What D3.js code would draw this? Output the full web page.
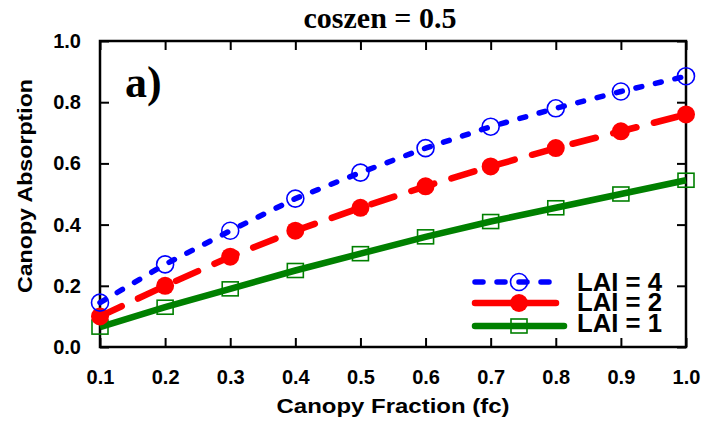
<!DOCTYPE html>
<meta charset="utf-8">
<body style="margin:0;background:#fff">
<style>
    text { font-family: "Liberation Sans", Arial, sans-serif; font-weight: bold; }
    .serif { font-family: "Liberation Serif", "Times New Roman", serif; }
</style>
<script src="https://d3js.org/d3.v7.min.js"></script>
<script>
    // data
    var fc = [0.1, 0.2, 0.3, 0.4, 0.5, 0.6, 0.7, 0.8, 0.9, 1.0];
    var lai4 = [0.145, 0.27, 0.38, 0.485, 0.57, 0.65, 0.72, 0.78, 0.835, 0.885];
    var lai2 = [0.10, 0.20, 0.295, 0.38, 0.455, 0.525, 0.59, 0.65, 0.705, 0.76];
    var lai1 = [0.065, 0.13, 0.19, 0.25, 0.305, 0.36, 0.41, 0.455, 0.50, 0.545];
    var xTicks = [0.1, 0.2, 0.3, 0.4, 0.5, 0.6, 0.7, 0.8, 0.9, 1.0];
    var yTicks = [0.0, 0.2, 0.4, 0.6, 0.8, 1.0];
    var legendNames = ["LAI = 4", "LAI = 2", "LAI = 1"];

    var margin = {top: 41, right: 20, bottom: 82, left: 100},
        width = 706 - margin.left - margin.right,
        height = 429 - margin.top - margin.bottom;

    var x = d3.scaleLinear().domain([0.1, 1.0]).range([0, width]);
    var y = d3.scaleLinear().domain([0, 1]).range([height, 0]);

    var svg = d3.select("body").append("svg")
        .attr("width", 706).attr("height", 429)
        .append("g")
        .attr("transform", "translate(" + margin.left + "," + margin.top + ")");

    // axes with inward ticks on all four sides
    function styleAxis(g) {
        g.select(".domain").remove();
        g.selectAll(".tick line").attr("stroke", "#000").attr("stroke-width", 2);
        g.selectAll("text").attr("font-size", 20).attr("fill", "#000");
    }
    svg.append("g").attr("transform", "translate(0," + height + ")")
        .call(d3.axisBottom(x).tickValues(xTicks).tickFormat(d3.format(".1f")).tickSizeInner(-9).tickPadding(23))
        .call(styleAxis);
    svg.append("g")
        .call(d3.axisTop(x).tickValues(xTicks).tickFormat("").tickSizeInner(-9))
        .call(styleAxis);
    svg.append("g")
        .call(d3.axisLeft(y).tickValues(yTicks).tickFormat(d3.format(".1f")).tickSizeInner(-9).tickPadding(19))
        .call(styleAxis);
    svg.append("g").attr("transform", "translate(" + width + ",0)")
        .call(d3.axisRight(y).tickValues(yTicks).tickFormat("").tickSizeInner(-9))
        .call(styleAxis);

    svg.append("rect").attr("width", width).attr("height", height)
        .attr("fill", "none").attr("stroke", "#000").attr("stroke-width", 2.5);

    var series = [
        {name: legendNames[0], values: lai4, color: "#0000ff", dash: "6,14", legDash: "8,14", width: 5.5, marker: "open"},
        {name: legendNames[1], values: lai2, color: "#ff0000", dash: "24,18", legDash: null, width: 6.5, marker: "filled"},
        {name: legendNames[2], values: lai1, color: "#008000", dash: null, legDash: null, width: 6.5, marker: "square"}
    ];

    var line = d3.line()
        .x(function(d, i) { return x(fc[i]); })
        .y(function(d) { return y(d); });

    function drawMarker(g, cx, cy, s) {
        if (s.marker === "open") {
            g.append("circle").attr("cx", cx).attr("cy", cy).attr("r", 8.5)
                .attr("fill", "none").attr("stroke", s.color).attr("stroke-width", 1.6);
        } else if (s.marker === "filled") {
            g.append("circle").attr("cx", cx).attr("cy", cy).attr("r", 9)
                .attr("fill", s.color);
        } else {
            g.append("rect").attr("x", cx - 8).attr("y", cy - 7).attr("width", 16).attr("height", 14)
                .attr("fill", "none").attr("stroke", s.color).attr("stroke-width", 1.6);
        }
    }

    series.slice().reverse().forEach(function(s) {
        svg.append("path")
            .datum(s.values)
            .attr("fill", "none")
            .attr("stroke", s.color)
            .attr("stroke-width", s.width)
            .attr("stroke-linecap", s.dash ? "round" : "butt")
            .attr("stroke-dasharray", s.dash)
            .attr("d", line);
        var mg = svg.append("g");
        s.values.forEach(function(v, i) { drawMarker(mg, x(fc[i]), y(v), s); });
    });

    // legend
    var leg = svg.append("g").attr("transform", "translate(375,241)");
    var legY = [0, 21, 44];
    series.forEach(function(s, i) {
        var ly = legY[i];
        leg.append("line").attr("x1", 0).attr("x2", s.marker === "square" ? 89 : 81)
            .attr("y1", ly).attr("y2", ly)
            .attr("stroke", s.color).attr("stroke-width", s.width)
            .attr("stroke-linecap", "round")
            .attr("stroke-dasharray", s.legDash);
        drawMarker(leg, 44, ly, s);
        leg.append("text").attr("x", 102).attr("y", ly + 9 - i * 1.5)
            .attr("font-size", 26).attr("textLength", 85).attr("lengthAdjust", "spacingAndGlyphs")
            .text(s.name);
    });

    // titles
    svg.append("text").attr("class", "serif").attr("x", 280).attr("y", -13)
        .attr("text-anchor", "middle").attr("font-size", 30).text("coszen = 0.5");
    svg.append("text").attr("class", "serif").attr("x", 25).attr("y", 56)
        .attr("font-size", 44).text("a)");
    svg.append("text").attr("x", 293).attr("y", height + 66)
        .attr("text-anchor", "middle").attr("font-size", 21)
        .attr("textLength", 233).attr("lengthAdjust", "spacingAndGlyphs")
        .text("Canopy Fraction (fc)");
    svg.append("text").attr("transform", "translate(-68," + (height / 2 - 8) + ") rotate(-90)")
        .attr("text-anchor", "middle").attr("font-size", 21)
        .attr("textLength", 214).attr("lengthAdjust", "spacingAndGlyphs")
        .text("Canopy Absorption");
</script>
</body>
